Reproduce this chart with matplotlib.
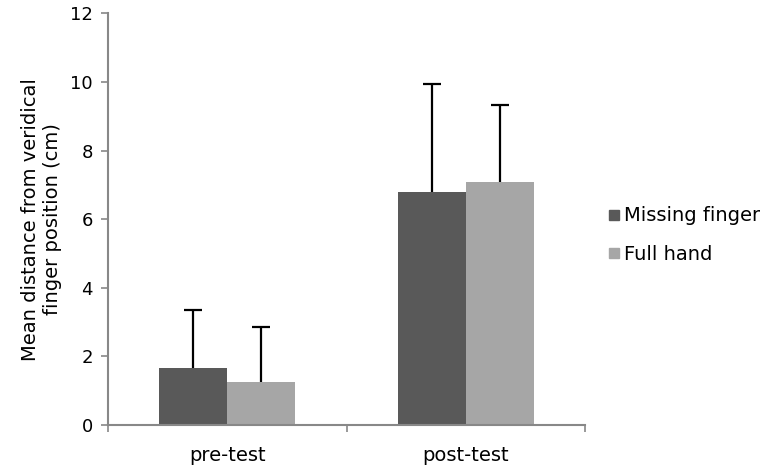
import matplotlib.pyplot as plt
import numpy as np
from matplotlib.lines import Line2D

categories = ["pre-test", "post-test"]
series = ["Missing finger", "Full hand"]
missing_means = [1.67, 6.78]
missing_err = [1.68, 3.16]
full_means = [1.26, 7.08]
full_err = [1.60, 2.24]
colors = ["#595959", "#a6a6a6"]

plt.rcParams["font.family"] = ["DejaVu Sans"]
plt.rcParams["font.size"] = 11

fig = plt.figure(figsize=(7.84, 4.75), dpi=100)
ax = fig.add_axes([0.1378, 0.1053, 0.6084, 0.8667])

x = np.arange(len(categories))
width = 0.285
for i, (means, errs) in enumerate([(missing_means, missing_err), (full_means, full_err)]):
    pos = x + (i - 0.5) * width
    ax.bar(pos, means, width, color=colors[i], label=series[i], zorder=2)
    eb = ax.errorbar(pos, means, yerr=[np.zeros(len(errs)), errs], fmt="none",
                     ecolor="black", elinewidth=1.6, capsize=6.5, capthick=1.6, zorder=3)
    # hide the lower caps, only the upper whisker is drawn
    eb[1][0].set_visible(False)

ax.set_xlim(-0.5, 1.5)
ax.set_ylim(0, 12)
ax.set_yticks(np.arange(0, 13, 2))
ax.set_xticks(x)
ax.set_xticklabels(categories)
ax.set_xticks([-0.5, 0.5, 1.5], minor=True)
ax.tick_params(axis="x", which="major", length=0, pad=15, labelsize=14)
ax.tick_params(axis="x", which="minor", length=5, color="#888888", width=1.2)
ax.tick_params(axis="y", length=5, color="#888888", width=1.2, labelsize=13, pad=6)

for side in ["top", "right"]:
    ax.spines[side].set_visible(False)
for side in ["left", "bottom"]:
    ax.spines[side].set_color("#888888")
    ax.spines[side].set_linewidth(1.5)

ax.set_ylabel("Mean distance from veridical\nfinger position (cm)", fontsize=14,
              labelpad=6, linespacing=1.15)

handles = [Line2D([], [], marker="s", linestyle="none", markersize=7.5,
                  markerfacecolor=c, markeredgecolor=c) for c in colors]
fig.legend(handles, series, loc="center left", bbox_to_anchor=(0.748, 0.505),
           frameon=False, fontsize=14, handletextpad=0.05, labelspacing=1.0,
           handlelength=1.0)

fig.savefig("out.png", dpi=100)
